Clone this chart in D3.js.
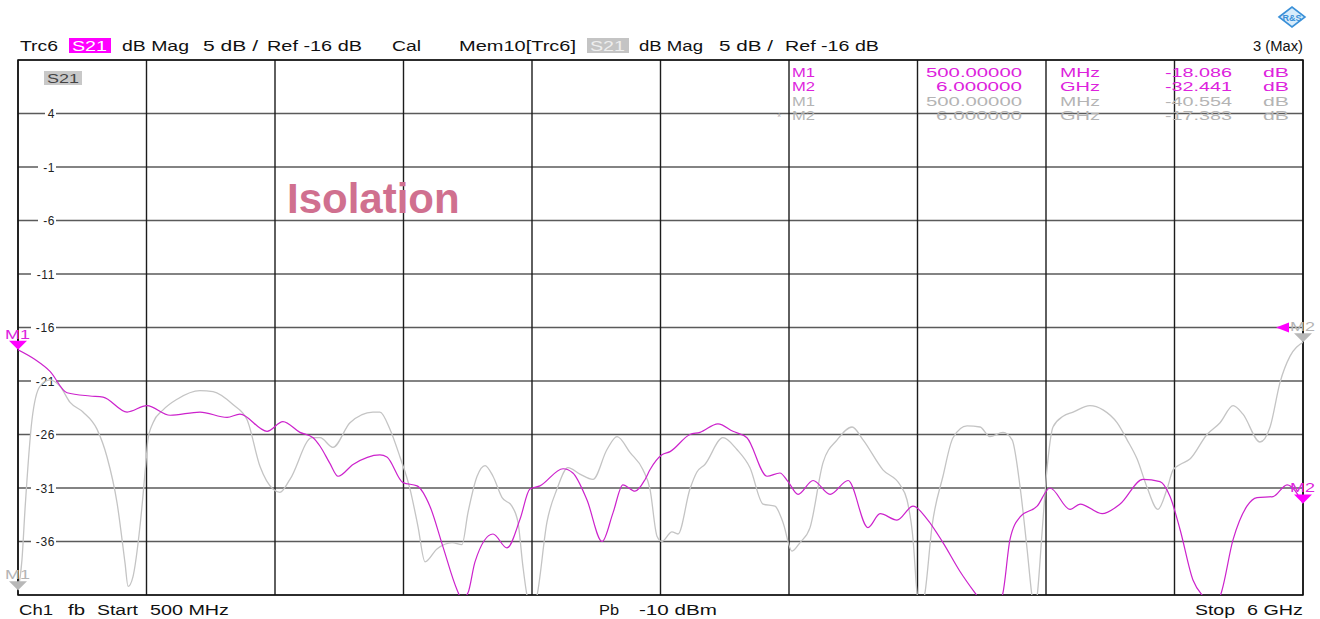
<!DOCTYPE html>
<html><head><meta charset="utf-8">
<script src="https://cdn.jsdelivr.net/npm/d3@7"></script>
<style>html,body{margin:0;padding:0;background:#fff;} svg{display:block;font-family:"Liberation Sans",Arial,sans-serif;}</style>
</head><body><svg id="c" width="1320" height="619"></svg>
<script>
// ---------- data ----------
const startMHz = 500, stopMHz = 6000;
const topDb = 9, bottomDb = -41, dbPerDiv = 5, freqDivs = 10;
const yTickValues = [4, -1, -6, -11, -16, -21, -26, -31, -36];
const yTickLabels = ["4", "-1", "-6", "-11", "-16", "-21", "-26", "-31", "-36"];

// Trc6 S21 (magenta, live trace)
const trcFreq = [500,573,637,710,808,864,967,1052,1151,1279,1395,1450,1566,1634,1707,1763,1793,1835,1870,1934,2049,2079,2148,2208,2263,2319,2379,2400,2426,2456,2533,2593,2649,2691,2734,2833,2875,2935,3000,3047,3089,3141,3184,3205,3256,3291,3376,3419,3496,3560,3620,3706,3761,3796,3839,3903,3976,4053,4138,4190,4262,4331,4391,4459,4532,4596,4652,4712,4746,4789,4862,4917,5003,5046,5140,5217,5315,5388,5431,5474,5529,5572,5611,5645,5701,5760,5803,5872,5932,6000];
const trcDb = [-18.09,-19.0,-20.1,-22.1,-22.4,-22.5,-23.9,-23.3,-24.2,-23.9,-24.4,-24.1,-25.7,-24.8,-25.8,-26.3,-27.1,-28.7,-29.9,-28.8,-27.9,-28.1,-30.5,-30.8,-32.7,-36.5,-40.5,-41.4,-40.8,-37.9,-35.3,-36.6,-33.9,-31.1,-30.8,-29.2,-29.6,-32.1,-36.0,-33.3,-30.7,-31.3,-30.2,-29.3,-27.9,-27.6,-26.0,-25.8,-25.0,-25.7,-26.3,-29.9,-29.6,-30.4,-31.6,-30.3,-31.6,-30.3,-34.7,-33.4,-34.0,-32.7,-33.9,-36.1,-38.8,-40.8,-42.4,-41.1,-35.8,-33.7,-32.7,-31.0,-33.0,-32.5,-33.4,-32.5,-30.2,-30.4,-31.8,-34.9,-39.6,-41.1,-41.9,-41.1,-35.8,-32.7,-31.9,-31.8,-30.7,-32.44];

// Mem10[Trc6] S21 (gray, memory trace)
const memFreq = [500,517,530,560,594,637,680,723,778,838,881,924,958,971,992,1022,1048,1056,1078,1121,1181,1279,1335,1420,1480,1536,1591,1621,1664,1758,1793,1848,1921,2019,2049,2092,2135,2178,2212,2242,2293,2358,2400,2426,2465,2499,2533,2572,2614,2640,2661,2679,2700,2721,2764,2807,2854,2905,2961,3021,3064,3120,3175,3205,3235,3256,3299,3325,3376,3406,3440,3517,3577,3633,3689,3740,3774,3813,3847,3890,3946,4006,4070,4117,4202,4275,4305,4331,4348,4365,4382,4412,4459,4502,4562,4618,4660,4716,4755,4789,4819,4840,4849,4862,4883,4904,4930,4973,5016,5088,5144,5204,5247,5290,5332,5379,5418,5444,5474,5516,5589,5645,5701,5743,5816,5859,5902,5944,6000];
const memDb = [-40.55,-37.7,-33.0,-24.6,-21.5,-20.9,-21.5,-23.0,-23.9,-25.5,-28.1,-32.4,-38.0,-40.2,-39.3,-34.6,-28.5,-26.5,-24.9,-23.7,-22.7,-21.9,-22.0,-23.2,-24.6,-29.0,-31.1,-31.4,-30.2,-26.3,-26.3,-27.2,-24.9,-23.9,-23.9,-25.5,-28.1,-31.1,-34.6,-37.9,-36.7,-36.1,-36.3,-33.3,-29.9,-28.9,-29.9,-31.9,-32.7,-34.2,-38.3,-41.1,-42.5,-41.1,-34.2,-31.1,-29.1,-29.7,-30.2,-27.4,-26.2,-27.7,-29.3,-31.1,-35.5,-36.0,-35.1,-35.3,-31.1,-29.5,-28.8,-26.3,-27.4,-29.1,-32.5,-32.7,-34.2,-36.9,-36.1,-34.7,-28.6,-26.5,-25.3,-26.5,-29.3,-30.7,-32.1,-35.8,-40.8,-42.4,-40.8,-34.6,-29.9,-26.3,-25.2,-25.3,-26.2,-25.8,-26.5,-30.9,-36.7,-41.1,-42.4,-41.1,-35.2,-29.3,-25.3,-24.3,-23.9,-23.3,-23.7,-24.9,-26.5,-28.3,-30.9,-33.0,-31.1,-29.3,-28.8,-28.3,-26.0,-24.9,-23.3,-24.1,-26.7,-25.3,-21.1,-18.7,-17.38];

// markers
const markerNames = ["M1", "M2"];
const markerFreqMHz = [500, 6000];
const markerFreqText = ["500.00000", "6.000000"];
const markerUnits = ["MHz", "GHz"];
const trcMarkerDb = [-18.086, -32.441];
const memMarkerDb = [-40.554, -17.383];
const refLevelDb = -16;

// ---------- colours ----------
const MAG = "#cc22cc", MAGTXT = "#dd22dd", MAGBOX = "#ff00ff";
const GRY = "#c4c4c4", GRYTXT = "#b4b4b4";

// ---------- layout ----------
const L = 18, R = 1303, T = 60, B = 595;
const x = d3.scaleLinear().domain([startMHz, stopMHz]).range([L, R]);
const y = d3.scaleLinear().domain([bottomDb, topDb]).range([B, T]);
const svg = d3.select("#c");

function txt(g, s, xx, yy, opts) {
  const t = g.append("text").attr("x", xx).attr("y", yy).text(s)
    .attr("font-size", opts.size || 14).attr("fill", opts.fill || "#111");
  if (opts.w) t.attr("textLength", opts.w).attr("lengthAdjust", "spacingAndGlyphs");
  if (opts.anchor) t.attr("text-anchor", opts.anchor);
  if (opts.weight) t.attr("font-weight", opts.weight);
  return t;
}
// header
const hdr = svg.append("g");
hdr.append("rect").attr("x", 69).attr("y", 38).attr("width", 42).attr("height", 15).attr("fill", MAGBOX);
hdr.append("rect").attr("x", 587).attr("y", 38).attr("width", 42).attr("height", 15).attr("fill", "#c4c4c4");
const hdrSegs = [
  ["Trc6", 20, 38, "#111"], ["S21", 72, 35, "#fff"], ["dB Mag", 122, 67, "#111"], ["5 dB /", 203, 55, "#111"],
  ["Ref -16 dB", 267, 95, "#111"], ["Cal", 392, 29, "#111"], ["Mem10[Trc6]", 459, 117, "#111"],
  ["S21", 590, 35, "#eeeeee"], ["dB Mag", 639, 64, "#111"], ["5 dB /", 719, 54, "#111"], ["Ref -16 dB", 785, 94, "#111"],
  ["3 (Max)", 1253, 50, "#111"]
];
hdrSegs.forEach(s => txt(hdr, s[0], s[1], 51, {w: s[2], fill: s[3], size: 14}));

// R&S logo
const logo = svg.append("g").attr("transform", "translate(1292,17)");
logo.append("path").attr("d", "M-13,0 L0,-10 L13,0 L0,10 Z").attr("fill", "#d8ecfb").attr("stroke", "#3a90d8").attr("stroke-width", 1.6);
logo.append("text").attr("x", 0).attr("y", 3.5).attr("text-anchor", "middle").attr("font-size", 9).attr("font-weight", "bold").attr("fill", "#3a90d8").text("R&S");

// grid
const grid = svg.append("g");
const xGrid = d3.range(freqDivs + 1).map(i => startMHz + i * (stopMHz - startMHz) / freqDivs);
const yGrid = d3.range(bottomDb, topDb + 0.1, dbPerDiv);
grid.selectAll("line.h").data(yGrid).join("line")
  .attr("x1", L).attr("x2", R).attr("y1", d => y(d)).attr("y2", d => y(d))
  .attr("stroke", "#5a5a5a").attr("stroke-width", 1.4);
grid.selectAll("line.v").data(xGrid).join("line")
  .attr("y1", T).attr("y2", B).attr("x1", d => x(d)).attr("x2", d => x(d))
  .attr("stroke", "#1c1c1c").attr("stroke-width", 1.4);
grid.append("rect").attr("x", L).attr("y", T).attr("width", R - L).attr("height", B - T)
  .attr("fill", "none").attr("stroke", "#111").attr("stroke-width", 1.5);

// y tick labels with white background
const yl = svg.append("g");
yTickValues.forEach((v, i) => {
  const lbl = yTickLabels[i];
  const w = lbl.length * 7 + 4;
  yl.append("rect").attr("x", 56 - w).attr("y", y(v) - 6).attr("width", w).attr("height", 12).attr("fill", "#fff");
  yl.append("text").attr("x", 55).attr("y", y(v) + 4.5).attr("text-anchor", "end")
    .attr("font-size", 12).attr("fill", "#222").attr("letter-spacing", "0.6").text(lbl);
});

// S21 label in plot
svg.append("rect").attr("x", 44).attr("y", 71).attr("width", 38).attr("height", 14).attr("fill", "#c8c8c8");
txt(svg, "S21", 47, 83, {size: 13, fill: "#444", w: 32});

// Isolation annotation
txt(svg, "Isolation", 287, 213, {size: 42, weight: "bold", fill: "#d0708f"});

// traces
svg.append("clipPath").attr("id", "clip").append("rect").attr("x", L).attr("y", T).attr("width", R - L).attr("height", B - T);
const line = d3.line().x(d => x(d[0])).y(d => y(d[1])).curve(d3.curveMonotoneX);
const memPts = memFreq.map((f, i) => [f, memDb[i]]);
const trcPts = trcFreq.map((f, i) => [f, trcDb[i]]);
svg.append("path").attr("clip-path", "url(#clip)").attr("d", line(memPts))
  .attr("fill", "none").attr("stroke", GRY).attr("stroke-width", 1.3);
svg.append("path").attr("clip-path", "url(#clip)").attr("d", line(trcPts))
  .attr("fill", "none").attr("stroke", MAG).attr("stroke-width", 1.2);

// marker table
const tbl = svg.append("g");
const rows = [];
markerNames.forEach((m, i) => rows.push({name: m, f: markerFreqText[i], u: markerUnits[i], v: trcMarkerDb[i], c: MAGTXT}));
markerNames.forEach((m, i) => rows.push({name: m, f: markerFreqText[i], u: markerUnits[i], v: memMarkerDb[i], c: GRYTXT}));
const rowY = [77, 91, 106, 120];
rows.forEach((r, i) => {
  const yy = rowY[i];
  txt(tbl, r.name, 792, yy, {size: 12.5, fill: r.c, w: 23});
  const fw = r.f.length > 8 ? 96 : 86;
  txt(tbl, r.f, 1022 - fw, yy, {size: 12.5, fill: r.c, w: fw});
  txt(tbl, r.u, 1060, yy, {size: 12.5, fill: r.c, w: 40});
  txt(tbl, r.v.toFixed(3), 1165, yy, {size: 12.5, fill: r.c, w: 67});
  txt(tbl, "dB", 1263, yy, {size: 12.5, fill: r.c, w: 26});
});
txt(tbl, "*", 777, 121, {size: 11, fill: GRYTXT});

// marker glyphs
function downTri(g, cx, tipY, col) {
  g.append("path").attr("d", `M${cx - 9},${tipY - 9} L${cx + 9},${tipY - 9} L${cx},${tipY} Z`).attr("fill", col);
}
const mk = svg.append("g");
markerFreqMHz.forEach((f, i) => {
  const cx = x(f), ty = y(trcMarkerDb[i]);
  downTri(mk, cx, ty, MAGBOX);
  txt(mk, markerNames[i], cx - 13, ty - 11, {size: 13, fill: MAGTXT, w: 25});
});
markerFreqMHz.forEach((f, i) => {
  const cx = x(f), ty = y(memMarkerDb[i]);
  downTri(mk, cx, ty, "#b8b8b8");
  txt(mk, markerNames[i], cx - 13, ty - 11, {size: 13, fill: GRYTXT, w: 25});
});
// reference level indicator
mk.append("path").attr("d", `M${R - 27},${y(refLevelDb)} L${R - 14},${y(refLevelDb) - 5} L${R - 14},${y(refLevelDb) + 5} Z`).attr("fill", MAGBOX);

// footer
const ft = svg.append("g");
[["Ch1", 19, 34], ["fb", 68, 17], ["Start", 97, 41], ["500 MHz", 150, 79], ["Pb", 599, 20], ["-10 dBm", 639, 78], ["Stop", 1195, 40], ["6 GHz", 1247, 56]]
  .forEach(s => txt(ft, s[0], s[1], 615, {size: 14, w: s[2], fill: "#111"}));
</script></body></html>
